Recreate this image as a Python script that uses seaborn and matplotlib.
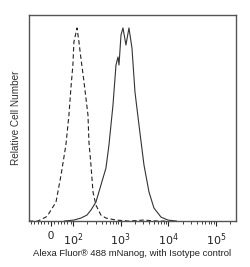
import matplotlib
matplotlib.use("Agg")
import numpy as np
import pandas as pd
import seaborn as sns
import matplotlib.pyplot as plt
from matplotlib.ticker import FixedLocator

# isotype control (dashed) - fluorescence vs relative count
iso_x = [-100, -60, -23, -14, 23, 46, 68, 82, 91, 100, 105, 122, 134, 147, 171,
         207, 217, 239, 264, 304, 387, 493, 800, 1500, 3000, 6000, 10000]
iso_y = [0, 0, 4, 6, 19, 46, 76, 106, 133, 156, 179, 193, 179, 163, 139,
         106, 79, 56, 29, 16, 6, 3, 1, 0, 1, 0, 0]

# mNanog stained (solid)
nan_x = [60, 105, 147, 197, 239, 304, 387, 493, 570, 628, 692, 800, 881, 925,
         1019, 1120, 1294, 1496, 1730, 2000, 2427, 3090, 3936, 5005, 7020, 9840, 15000]
nan_y = [0, 1, 3, 6, 11, 19, 36, 53, 76, 96, 116, 156, 164, 156,
         186, 193, 176, 193, 173, 129, 96, 56, 29, 13, 4, 1, 0]

tick_vals = [0, 100, 1000, 10000, 100000]
tick_labels = ["0", "$10^2$", "$10^3$", "$10^4$", "$10^5$"]

sns.set_style("white")
plt.rcParams['font.family'] = ['Liberation Sans', 'DejaVu Sans']

fig = plt.figure(figsize=(2.5, 2.67), dpi=100)
ax = fig.add_axes([0.116, 0.172, 0.828, 0.772])

iso = pd.DataFrame({"x": iso_x, "y": iso_y})
nan = pd.DataFrame({"x": nan_x, "y": nan_y})
sns.lineplot(data=iso, x="x", y="y", ax=ax, color="#222222", lw=0.8,
             linestyle=(0, (4, 2.5)), sort=False)
sns.lineplot(data=nan, x="x", y="y", ax=ax, color="#333333", lw=0.8, sort=False)

ax.set_xscale("symlog", linthresh=100, linscale=0.414)
ax.set_xlim(-100, 262144)
ax.set_ylim(0, 206)

ax.xaxis.set_major_locator(FixedLocator(tick_vals))
ax.set_xticklabels(tick_labels)
minors = list(range(-90, 100, 15))
for d in [100, 1000, 10000, 100000]:
    minors += [d * k for k in range(2, 10) if d * k < 262144]
ax.xaxis.set_minor_locator(FixedLocator(minors))
ax.tick_params(axis="x", which="major", direction="out", length=3.5, width=0.8,
               labelsize=8, pad=4, colors="#222222", bottom=True)
ax.tick_params(axis="x", which="minor", direction="out", length=2, width=0.6,
               bottom=True, colors="#222222")
ax.set_yticks([])

for s in ax.spines.values():
    s.set_color("#555555")
    s.set_linewidth(1.0)

ax.set_xlabel("Alexa Fluor® 488 mNanog, with Isotype control", fontsize=6.8,
              labelpad=0.5, color="#222222")
ax.set_ylabel("Relative Cell Number", fontsize=7.2, labelpad=6, color="#333333")

fig.savefig("out.png", dpi=100)
